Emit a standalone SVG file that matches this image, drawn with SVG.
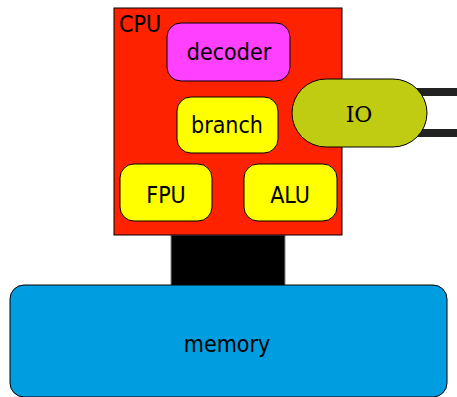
<svg xmlns="http://www.w3.org/2000/svg" width="457" height="397" viewBox="0 0 457 397">
  <style>
    .box { stroke: #000; stroke-width: 1; }
    .lbl { font-family: "DejaVu Sans Condensed", "DejaVu Sans", Verdana, sans-serif; font-stretch: condensed; font-size: 23px; fill: #000; text-anchor: middle; }
    .io-lbl { font-family: "DejaVu Serif", "Liberation Serif", serif; font-size: 22px; fill: #000; text-anchor: middle; }
  </style>
  <g id="connectors">
    <!-- CPU to memory bus -->
    <rect x="171" y="235" width="114" height="51" fill="#000" stroke="#888" stroke-width="1"/>
    <!-- IO port lines -->
    <rect x="410" y="88" width="47" height="8" fill="#222"/>
    <rect x="410" y="129" width="47" height="8" fill="#222"/>
  </g>
  <g id="memory">
    <rect class="box" x="10" y="285" width="437" height="112" rx="14" fill="#009EE0"/>
    <text class="lbl" x="227" y="352">memory</text>
  </g>
  <g id="cpu">
    <rect class="box" x="114" y="8" width="228" height="227" fill="#FF2200"/>
    <text class="lbl" x="119" y="32" style="text-anchor:start">CPU</text>
  </g>
  <g id="decoder">
    <rect class="box" x="167" y="23" width="123" height="58" rx="14" fill="#FF40FF"/>
    <text class="lbl" x="229" y="60">decoder</text>
  </g>
  <g id="branch">
    <rect class="box" x="177" y="97" width="101" height="56" rx="14" fill="#FFFF00"/>
    <text class="lbl" x="227" y="133">branch</text>
  </g>
  <g id="fpu">
    <rect class="box" x="120" y="164" width="92" height="57" rx="14" fill="#FFFF00"/>
    <text class="lbl" x="166" y="203">FPU</text>
  </g>
  <g id="alu">
    <rect class="box" x="244" y="164" width="93" height="57" rx="14" fill="#FFFF00"/>
    <text class="lbl" x="290" y="203">ALU</text>
  </g>
  <g id="io">
    <rect class="box" x="292" y="79" width="135" height="68" rx="34" fill="#BFCC12"/>
    <text class="io-lbl" x="359" y="122">IO</text>
  </g>
</svg>
